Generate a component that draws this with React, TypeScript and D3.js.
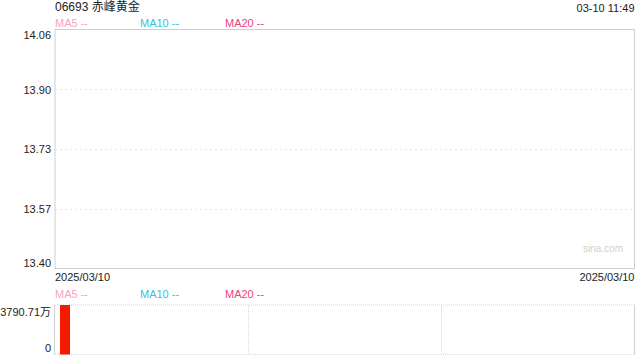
import React from "react";
import * as d3 from "d3";

const title = "06693 赤峰黄金";
const timeLabel = "03-10 11:49";
const priceTicks = [14.06, 13.895, 13.73, 13.565, 13.4];
const priceTickLabels = ["14.06", "13.90", "13.73", "13.57", "13.40"];
const dates = ["2025/03/10"];
const volumes = [3790.71];
const volTicks = [0, 3790.71];
const volTickLabels = ["0", "3790.71万"];
const maNames = ["MA5", "MA10", "MA20"];
const maColors = ["#f9a3c4", "#35c3da", "#f0407e"];

const W = 640;
const H = 360;
const L = 55;
const R = 634.5;
const mainTop = 29.5;
const mainBot = 268.5;
const volTop = 305;
const volBot = 354.5;
const FONT = "'Liberation Sans', Arial, 'Noto Sans CJK SC', sans-serif";

export default function App() {
  const y = d3.scaleLinear().domain([13.4, 14.06]).range([mainBot, mainTop]);
  const yv = d3.scaleLinear().domain([0, d3.max(volTicks) as number]).range([volBot, volTop]);
  const x = d3.scaleBand<string>().domain(dates).range([L, L + 20]).paddingInner(0.5).paddingOuter(0.25);
  const vSplits = [L + (R - L) / 3, L + (2 * (R - L)) / 3].map((v) => Math.round(v) + 0.5);

  const labelY = (v: number, i: number) => {
    const p = y(v) + 1.5;
    if (i === 0) return p + 5;
    if (i === priceTicks.length - 1) return p - 6;
    return p;
  };

  return (
    <svg width={W} height={H} style={{ position: "absolute", left: 0, top: 0, fontFamily: FONT }}>
      <rect x={0} y={0} width={W} height={H} fill="#fff" />
      <text x={L} y={8} fontSize={12} fill="#222" dominantBaseline="middle">{title}</text>
      <text x={R} y={9} fontSize={11} fill="#222" textAnchor="end" dominantBaseline="middle">{timeLabel}</text>
      {maNames.map((m, i) => (
        <text key={"ma" + m} x={L + i * 85} y={24} fontSize={11} fill={maColors[i]} dominantBaseline="middle">{m} --</text>
      ))}
      {priceTicks.slice(1, -1).map((t) => (
        <line key={"g" + t} x1={L} x2={R} y1={Math.round(y(t)) + 0.5} y2={Math.round(y(t)) + 0.5} stroke="#e6e6e6" strokeDasharray="2,3" />
      ))}
      <rect x={L} y={mainTop} width={R - L} height={mainBot - mainTop} fill="none" stroke="#cfcfcf" />
      {priceTicks.map((t, i) => (
        <text key={"pt" + t} x={51} y={labelY(t, i)} fontSize={11} fill="#222" textAnchor="end" dominantBaseline="middle">{priceTickLabels[i]}</text>
      ))}
      <text x={623} y={249} fontSize={10} fill="#cfcfcf" textAnchor="end" dominantBaseline="middle">sina.com</text>
      <text x={L} y={278} fontSize={11} fill="#222" dominantBaseline="middle">{dates[0]}</text>
      <text x={R} y={278} fontSize={11} fill="#222" textAnchor="end" dominantBaseline="middle">{dates[dates.length - 1]}</text>
      {maNames.map((m, i) => (
        <text key={"vma" + m} x={L + i * 85} y={295} fontSize={11} fill={maColors[i]} dominantBaseline="middle">{m} --</text>
      ))}
      <line x1={L} x2={R} y1={volTop} y2={volTop} stroke="#d6d6d6" strokeDasharray="1,1" />
      <line x1={L} x2={R} y1={volBot} y2={volBot} stroke="#d6d6d6" strokeDasharray="1,1" />
      <line x1={L - 0.5} x2={L - 0.5} y1={volTop} y2={volBot} stroke="#cfcfcf" />
      <line x1={R} x2={R} y1={volTop} y2={volBot} stroke="#cfcfcf" />
      {vSplits.map((v) => (
        <line key={"vs" + v} x1={v} x2={v} y1={volTop} y2={volBot} stroke="#d6d6d6" strokeDasharray="1,1" />
      ))}
      {dates.map((d, i) => (
        <rect key={"bar" + d} x={x(d)} y={yv(volumes[i])} width={x.bandwidth()} height={yv(0) - yv(volumes[i])} fill="#f31a00" />
      ))}
      <text x={51} y={313} fontSize={11} fill="#222" textAnchor="end" dominantBaseline="middle">{volTickLabels[1]}</text>
      <text x={51} y={349} fontSize={11} fill="#222" textAnchor="end" dominantBaseline="middle">{volTickLabels[0]}</text>
    </svg>
  );
}
